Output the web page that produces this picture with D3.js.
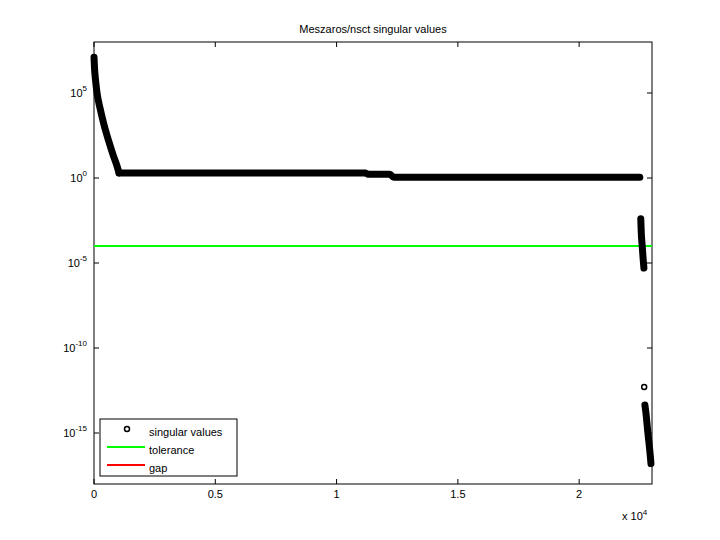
<!DOCTYPE html><html><head><script src="https://cdn.jsdelivr.net/npm/d3@7"></script>
<style>body{margin:0;background:#fff}text{font-family:"Liberation Sans",Arial,sans-serif;font-size:11px}</style></head><body>
<svg id="c" width="720" height="540"></svg>
<script>
// singular values: [index, log10(sigma)], grouped into visible clusters
const seg1 = [[1,7.1],[20,6.5],[60,5.8],[125,5.0],[250,4.1],[400,3.2],[600,2.2],[800,1.3],[950,0.7],[1030,0.3]];
const seg2 = [[1030,0.3],[5000,0.3],[11200,0.3],[11300,0.22],[12200,0.22],[12350,0.05],[18000,0.05],[22500,0.05]];
const seg3 = [[22540,-2.4],[22560,-3.2],[22600,-4.0],[22640,-4.8],[22670,-5.3]];
const seg4 = [[22680,-12.3]];
const seg5 = [[22710,-13.35],[22760,-13.9],[22820,-14.8],[22880,-15.6],[22930,-16.3],[22960,-16.8]];
const tolerance = 1e-4;
const xTicks = [0,5000,10000,15000,20000];
const xTickLabels = ["0","0.5","1","1.5","2"];
const yTicks = [-15,-10,-5,0,5];

const svg = d3.select("#c");
const L=94,R=652,T=42,B=484;
const x = d3.scaleLinear().domain([0,23003]).range([L,R]);
const y = d3.scaleLinear().domain([-18,8]).range([B,T]);
svg.append("rect").attr("x",L).attr("y",T).attr("width",R-L).attr("height",B-T).attr("fill","#fff").attr("stroke","#000");
xTicks.forEach((t,i)=>{
  svg.append("line").attr("x1",x(t)).attr("x2",x(t)).attr("y1",B).attr("y2",B-5).attr("stroke","#000");
  svg.append("line").attr("x1",x(t)).attr("x2",x(t)).attr("y1",T).attr("y2",T+5).attr("stroke","#000");
  svg.append("text").attr("x",x(t)).attr("y",B+14).attr("text-anchor","middle").text(xTickLabels[i]);
});
yTicks.forEach(t=>{
  svg.append("line").attr("x1",L).attr("x2",L+5).attr("y1",y(t)).attr("y2",y(t)).attr("stroke","#000");
  svg.append("line").attr("x1",R).attr("x2",R-5).attr("y1",y(t)).attr("y2",y(t)).attr("stroke","#000");
  const tx=svg.append("text").attr("x",L-7).attr("y",y(t)+4).attr("text-anchor","end");
  tx.append("tspan").text("10");
  tx.append("tspan").attr("dy",-6).attr("font-size",8).text(t);
});
const ex=svg.append("text").attr("x",622).attr("y",520);
ex.append("tspan").text("x 10");ex.append("tspan").attr("dy",-5).attr("font-size",8).text("4");
svg.append("text").attr("x",373).attr("y",33).attr("text-anchor","middle").text("Meszaros/nsct singular values");
svg.append("line").attr("x1",L).attr("x2",R).attr("y1",y(Math.log10(tolerance))).attr("y2",y(Math.log10(tolerance))).attr("stroke","#00ff00").attr("stroke-width",2);
const line=d3.line().x(d=>x(d[0])).y(d=>y(d[1])).curve(d3.curveMonotoneX);
[seg1,seg2,seg3,seg5].forEach(s=>svg.append("path").attr("d",line(s)).attr("fill","none").attr("stroke","#000").attr("stroke-width",7).attr("stroke-linecap","round").attr("stroke-linejoin","round"));
seg4.forEach(d=>svg.append("circle").attr("cx",x(d[0])).attr("cy",y(d[1])).attr("r",2.5).attr("fill","none").attr("stroke","#000").attr("stroke-width",1.5));
// legend
const g=svg.append("g");
g.append("rect").attr("x",100).attr("y",419).attr("width",137).attr("height",57).attr("fill","#fff").attr("stroke","#000");
g.append("circle").attr("cx",127).attr("cy",429).attr("r",2.5).attr("fill","none").attr("stroke","#000").attr("stroke-width",1.5);
g.append("text").attr("x",149).attr("y",436).text("singular values");
g.append("line").attr("x1",107).attr("x2",145).attr("y1",447).attr("y2",447).attr("stroke","#00ff00").attr("stroke-width",2);
g.append("text").attr("x",149).attr("y",454).text("tolerance");
g.append("line").attr("x1",107).attr("x2",145).attr("y1",465).attr("y2",465).attr("stroke","#ff0000").attr("stroke-width",2);
g.append("text").attr("x",149).attr("y",472).text("gap");
</script></body></html>
